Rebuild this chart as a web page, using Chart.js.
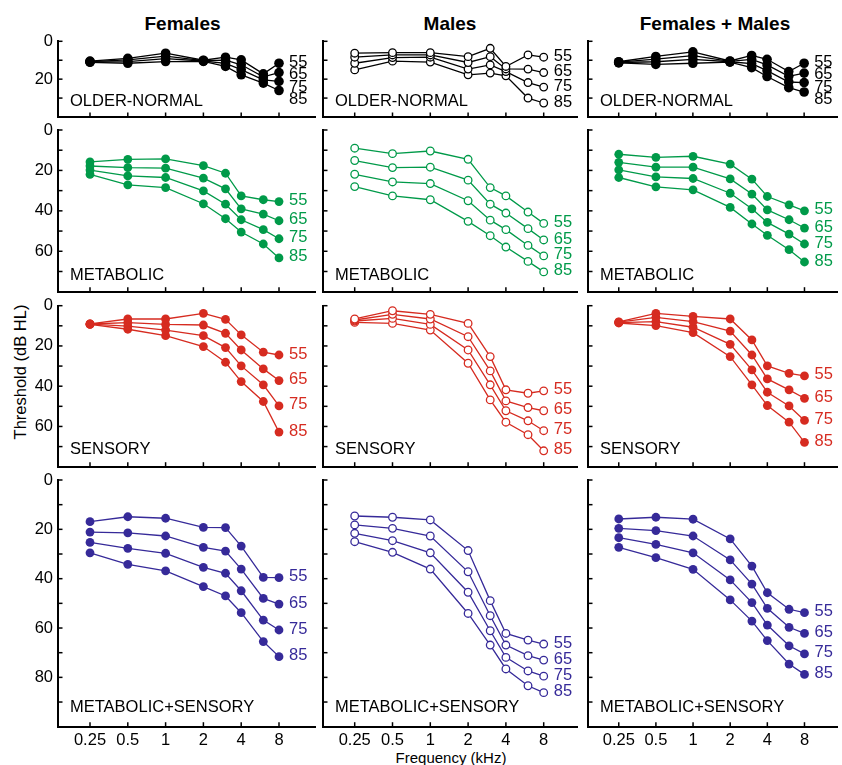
<!DOCTYPE html>
<html><head><meta charset="utf-8">
<script src="https://cdn.jsdelivr.net/npm/chart.js@4.4.1/dist/chart.umd.min.js"></script>
<style>
html,body{margin:0;padding:0;background:#fff;}
#wrap{position:relative;width:842px;height:765px;overflow:hidden;font-family:"Liberation Sans",Arial,sans-serif;color:#000;}
#wrap canvas{position:absolute;left:0;top:0;}
.lbl{position:absolute;white-space:nowrap;line-height:1;transform:translate(-50%,-50%);}
.ttl{font-weight:bold;font-size:19px;}
</style></head>
<body><div id="wrap"></div>
<script>
// ---------- data ----------
const frequencies = [0.25, 0.5, 1, 2, 3, 4, 6, 8];
const ageLabels = ['55', '65', '75', '85'];
const xTickValues = [0.25, 0.5, 1, 2, 4, 8];
const columnTitles = ['Females', 'Males', 'Females + Males'];
const phenotypeNames = ['OLDER-NORMAL', 'METABOLIC', 'SENSORY', 'METABOLIC+SENSORY'];
const yAxisMax = [40, 80, 80, 100];

const femalesOlderNormal = [
  [10.5, 9.0, 6.3, 10.0, 8.4, 9.8, 17.2, 11.6],
  [10.7, 9.8, 7.8, 10.2, 10.0, 12.4, 18.8, 16.5],
  [10.9, 10.7, 9.2, 10.4, 11.7, 15.0, 20.4, 21.2],
  [11.1, 11.6, 10.7, 10.6, 13.3, 17.7, 22.1, 26.0]
];
const malesOlderNormal = [
  [6.3, 6.0, 6.0, 8.1, 3.7, 13.3, 7.2, 8.4],
  [8.4, 7.2, 7.2, 11.2, 8.1, 14.6, 14.7, 16.5],
  [11.6, 8.6, 8.4, 14.7, 12.5, 16.0, 21.8, 24.2],
  [15.1, 10.5, 11.0, 17.7, 16.8, 18.2, 30.0, 32.6]
];
const bothOlderNormal = [
  [10.8, 8.0, 5.6, 10.4, 7.5, 9.5, 16.0, 11.6],
  [11.0, 9.4, 7.6, 10.6, 9.6, 12.5, 18.5, 16.8],
  [11.2, 10.8, 9.6, 10.8, 11.8, 15.5, 21.5, 21.8],
  [11.4, 12.2, 11.6, 11.0, 13.9, 18.6, 24.5, 26.8]
];
const femalesMetabolic = [
  [15.8, 14.5, 14.3, 17.6, 21.4, 32.6, 34.5, 35.4],
  [17.8, 18.6, 18.9, 23.8, 29.1, 39.0, 41.6, 44.9],
  [19.8, 22.7, 23.5, 30.1, 36.7, 44.4, 49.3, 53.8],
  [22.0, 27.1, 28.5, 36.5, 43.9, 50.5, 56.4, 63.3]
];
const malesMetabolic = [
  [9.0, 11.7, 10.4, 14.5, 28.5, 32.6, 40.6, 46.2],
  [15.1, 18.6, 18.4, 24.8, 36.7, 41.1, 48.8, 54.4],
  [21.9, 25.7, 26.5, 35.0, 44.6, 49.3, 57.1, 62.3],
  [28.0, 32.6, 34.5, 45.2, 52.3, 57.9, 65.0, 70.2]
];
const bothMetabolic = [
  [12.0, 13.5, 13.0, 16.9, 24.3, 32.9, 37.0, 40.0],
  [16.0, 18.4, 18.4, 24.2, 31.7, 39.5, 44.4, 48.5],
  [19.7, 23.2, 24.0, 31.3, 39.0, 45.7, 51.5, 56.4],
  [23.5, 28.1, 29.6, 38.3, 46.5, 52.1, 59.2, 65.3]
];
const femalesSensory = [
  [9.0, 6.6, 6.6, 3.8, 6.8, 14.5, 23.1, 24.5],
  [9.1, 8.4, 9.3, 9.6, 13.7, 22.0, 31.4, 37.2],
  [9.2, 10.1, 12.1, 14.9, 20.8, 29.9, 39.3, 49.8],
  [9.3, 11.7, 14.9, 20.3, 28.1, 37.7, 47.6, 62.8]
];
const malesSensory = [
  [6.6, 2.5, 4.3, 8.8, 25.3, 41.8, 43.5, 42.3],
  [7.1, 4.3, 6.6, 15.4, 32.4, 47.3, 50.6, 52.2],
  [7.6, 6.3, 9.3, 22.0, 39.3, 52.2, 57.2, 62.1],
  [8.3, 8.8, 12.1, 28.6, 46.8, 57.9, 64.1, 72.1]
];
const bothSensory = [
  [8.0, 3.8, 5.3, 6.6, 17.0, 29.9, 33.6, 34.9],
  [8.2, 5.8, 7.9, 12.6, 24.5, 36.4, 41.8, 46.0],
  [8.4, 7.9, 10.7, 19.2, 31.9, 43.0, 49.8, 57.0],
  [8.6, 9.9, 13.4, 25.3, 39.3, 49.6, 57.9, 67.9]
];
const femalesMetSens = [
  [16.9, 14.9, 15.5, 19.2, 19.3, 26.8, 39.5, 39.6],
  [21.1, 21.4, 22.7, 27.3, 28.8, 36.1, 48.0, 50.3],
  [25.3, 27.7, 29.7, 35.4, 37.8, 44.9, 56.8, 60.8],
  [29.5, 34.2, 36.8, 43.2, 47.0, 53.8, 65.5, 71.6]
];
const malesMetSens = [
  [14.6, 15.1, 16.2, 28.6, 48.9, 62.2, 64.9, 66.5],
  [18.2, 19.6, 22.7, 37.2, 55.0, 66.9, 71.2, 73.0],
  [21.6, 24.6, 29.5, 45.5, 61.1, 71.9, 77.4, 79.5],
  [25.0, 29.3, 36.1, 54.1, 66.9, 76.6, 83.4, 86.2]
];
const bothMetSens = [
  [15.8, 15.1, 15.9, 23.9, 34.9, 45.7, 52.4, 53.8],
  [19.6, 20.5, 22.7, 32.4, 42.2, 52.0, 59.7, 62.2],
  [23.4, 26.1, 29.5, 40.5, 49.7, 58.8, 67.2, 70.5],
  [27.3, 31.5, 36.2, 48.6, 57.2, 65.1, 74.6, 78.8]
];

const panelRows = [
  [femalesOlderNormal, malesOlderNormal, bothOlderNormal],
  [femalesMetabolic, malesMetabolic, bothMetabolic],
  [femalesSensory, malesSensory, bothSensory],
  [femalesMetSens, malesMetSens, bothMetSens]
];

// ---------- layout / style ----------
const W = 842, H = 765;
const FONT = '"Liberation Sans", Arial, sans-serif';
const rowColors = ['#000000', '#009a49', '#d62b20', '#362a99'];
const colLeft = [58, 323, 588];
const colRight = [315, 577, 842];
const firstTickOffset = [32, 31.7, 31.3];
const octavePx = 37.8;
const rowTop = [41.3, 130, 305.7, 480];
const rowBottom = [117, 291.7, 466.7, 726.7];
const nameOffset = [11, 12, 12.5, 15];
const Y_AXIS_W = 45, X_AXIS_H = 30;

const wrap = document.getElementById('wrap');

function addLabel(text, x, y, cls, extra) {
  const d = document.createElement('div');
  d.className = 'lbl ' + (cls || '');
  d.textContent = text;
  d.style.left = x + 'px';
  d.style.top = y + 'px';
  if (extra) Object.assign(d.style, extra);
  wrap.appendChild(d);
}

const decorPlugin = {
  id: 'decor',
  afterDraw(chart, args, o) {
    const {ctx, chartArea: ca} = chart;
    const x = chart.scales.x, y = chart.scales.y;
    ctx.save();
    ctx.strokeStyle = '#000';
    ctx.lineWidth = 1.5;
    for (const v of xTickValues) {
      const px = x.getPixelForValue(v);
      ctx.beginPath(); ctx.moveTo(px, ca.bottom); ctx.lineTo(px, ca.bottom - 4.5); ctx.stroke();
    }
    for (let v = 0; v < o.max; v += 10) {
      const py = y.getPixelForValue(v);
      ctx.beginPath(); ctx.moveTo(ca.left, py); ctx.lineTo(ca.left + 4.5, py); ctx.stroke();
    }
    ctx.fillStyle = '#000';
    ctx.font = '16.5px ' + FONT;
    ctx.textAlign = 'left';
    ctx.textBaseline = 'alphabetic';
    ctx.fillText(o.name, ca.left + 12, ca.bottom - o.nameOffset);
    // age labels at the right end of each curve
    ctx.font = '16.5px ' + FONT;
    ctx.fillStyle = o.color;
    ctx.textBaseline = 'middle';
    const lx = x.getPixelForValue(frequencies[frequencies.length - 1]) + 10;
    let prev = -1e9;
    o.series.forEach((vals, i) => {
      const py = y.getPixelForValue(vals[vals.length - 1]) - 1;
      const ly = Math.max(py, prev + 12.5);
      ctx.fillText(ageLabels[i], lx, ly);
      prev = ly;
    });
    ctx.restore();
  }
};

columnTitles.forEach((t, c) => addLabel(t, (colLeft[c] + colRight[c]) / 2 - (c === 0 ? 4 : 0), 23, 'ttl'));
addLabel('Threshold (dB HL)', 20, 372, '', {fontSize: '16.5px', transform: 'translate(-50%,-50%) rotate(-90deg)'});
addLabel('Frequency (kHz)', 451, 757, '', {fontSize: '15px'});

panelRows.forEach((row, r) => {
  row.forEach((series, c) => {
    const cv = document.createElement('canvas');
    cv.width = W; cv.height = H;
    cv.style.width = W + 'px'; cv.style.height = H + 'px';
    wrap.appendChild(cv);
    const width = colRight[c] - colLeft[c];
    const xMin = 0.25 * Math.pow(2, -firstTickOffset[c] / octavePx);
    const xMax = 0.25 * Math.pow(2, (width - firstTickOffset[c]) / octavePx);
    const hollow = c === 1;
    const color = rowColors[r];
    const yTickVals = [];
    for (let v = 0; v < yAxisMax[r]; v += 20) yTickVals.push(v);
    new Chart(cv, {
      type: 'line',
      data: {
        datasets: series.map((vals, i) => ({
          label: ageLabels[i],
          data: frequencies.map((f, k) => ({x: f, y: vals[k]})),
          borderColor: color,
          borderWidth: 1.3,
          pointRadius: hollow ? 3.8 : (r === 0 ? 4.8 : 4.4),
          pointBorderWidth: hollow ? 1.3 : 0,
          pointBackgroundColor: hollow ? '#ffffff' : color,
          pointBorderColor: color,
          fill: false,
          tension: 0
        }))
      },
      options: {
        responsive: false,
        animation: false,
        events: [],
        devicePixelRatio: 1,
        layout: {padding: {
          left: colLeft[c] - Y_AXIS_W,
          right: W - colRight[c],
          top: rowTop[r],
          bottom: H - rowBottom[r] - X_AXIS_H
        }},
        plugins: {
          legend: {display: false},
          tooltip: {enabled: false},
          title: {display: false},
          decor: {max: yAxisMax[r], name: phenotypeNames[r], nameOffset: nameOffset[r], color: color, series: series}
        },
        scales: {
          x: {
            type: 'logarithmic', position: 'bottom', min: xMin, max: xMax,
            afterBuildTicks: s => { s.ticks = xTickValues.map(v => ({value: v})); },
            afterFit: s => { s.height = X_AXIS_H; },
            grid: {display: false, drawTicks: false},
            border: {display: true, color: '#000', width: 2},
            ticks: {display: r === 3, color: '#000', font: {size: 16.5, family: FONT}, padding: 4,
                    maxRotation: 0, autoSkip: false, callback: v => String(v)}
          },
          y: {
            type: 'linear', position: 'left', reverse: true, min: 0, max: yAxisMax[r],
            afterBuildTicks: s => { s.ticks = yTickVals.map(v => ({value: v})); },
            afterFit: s => { s.width = Y_AXIS_W; },
            grid: {display: false, drawTicks: false},
            border: {display: true, color: '#000', width: 2},
            ticks: {display: c === 0, color: '#000', font: {size: 16.5, family: FONT}, padding: 5,
                    autoSkip: false, callback: v => String(v)}
          }
        }
      },
      plugins: [decorPlugin]
    });
  });
});
</script>
</body></html>
